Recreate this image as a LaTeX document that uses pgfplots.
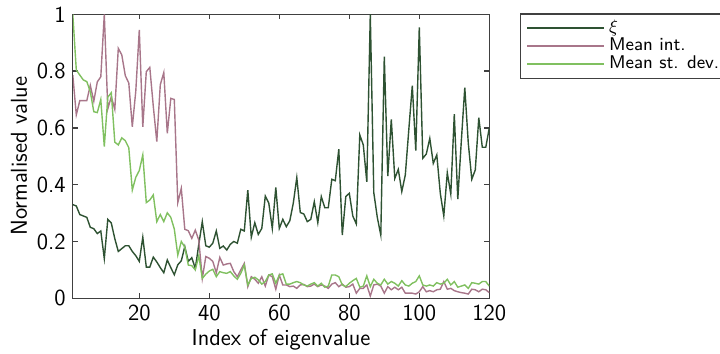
\documentclass[border=0pt]{standalone}
\usepackage{pgfplots}
\pgfplotsset{compat=1.18}
\usepackage{pgfplotstable}

\definecolor{xicol}{RGB}{46,82,50}
\definecolor{intcol}{RGB}{168,118,138}
\definecolor{sdcol}{RGB}{128,192,96}
\definecolor{axcol}{RGB}{64,64,64}

% index, xi, mean intensity, mean standard deviation
\pgfplotstableread{
i xi mint msd
1 0.33 0.786 1.0
2 0.325 0.646 0.804
3 0.295 0.696 0.786
4 0.29 0.696 0.769
5 0.285 0.696 0.763
6 0.25 0.75 0.728
7 0.245 0.694 0.657
8 0.228 0.762 0.654
9 0.237 0.78 0.70
10 0.14 1.0 0.534
11 0.278 0.667 0.708
12 0.265 0.71 0.724
13 0.21 0.665 0.55
14 0.165 0.88 0.54
15 0.175 0.857 0.565
16 0.185 0.784 0.555
17 0.185 0.758 0.53
18 0.165 0.604 0.381
19 0.15 0.73 0.426
20 0.13 0.945 0.45
21 0.215 0.604 0.505
22 0.11 0.798 0.337
23 0.11 0.813 0.346
24 0.145 0.676 0.364
25 0.128 0.552 0.27
26 0.108 0.752 0.295
27 0.09 0.795 0.27
28 0.135 0.581 0.301
29 0.108 0.704 0.285
30 0.083 0.70 0.244
31 0.118 0.337 0.152
32 0.132 0.387 0.2
33 0.182 0.243 0.18
34 0.13 0.238 0.117
35 0.143 0.211 0.115
36 0.105 0.24 0.1
37 0.19 0.205 0.15
38 0.27 0.07 0.07
39 0.185 0.147 0.085
40 0.18 0.141 0.096
41 0.194 0.13 0.102
42 0.237 0.09 0.076
43 0.176 0.144 0.094
44 0.184 0.117 0.09
45 0.17 0.121 0.088
46 0.19 0.123 0.094
47 0.2 0.094 0.079
48 0.194 0.076 0.067
49 0.243 0.1 0.088
50 0.237 0.123 0.117
51 0.381 0.041 0.047
52 0.215 0.076 0.07
53 0.266 0.067 0.074
54 0.225 0.053 0.065
55 0.246 0.076 0.05
56 0.36 0.043 0.059
57 0.335 0.082 0.082
58 0.246 0.076 0.086
59 0.39 0.032 0.053
60 0.246 0.082 0.082
61 0.278 0.047 0.086
62 0.252 0.047 0.05
63 0.273 0.041 0.05
64 0.335 0.043 0.055
65 0.425 0.035 0.059
66 0.302 0.047 0.055
67 0.297 0.049 0.047
68 0.27 0.041 0.043
69 0.278 0.043 0.05
70 0.34 0.05 0.055
71 0.266 0.041 0.043
72 0.358 0.047 0.053
73 0.319 0.043 0.039
74 0.319 0.035 0.043
75 0.419 0.05 0.082
76 0.414 0.055 0.082
77 0.525 0.041 0.076
78 0.223 0.05 0.047
79 0.358 0.039 0.041
80 0.37 0.041 0.053
81 0.29 0.05 0.062
82 0.262 0.018 0.07
83 0.575 0.035 0.039
84 0.54 0.035 0.043
85 0.41 0.047 0.079
86 1.0 0.008 0.041
87 0.372 0.047 0.067
88 0.285 0.05 0.053
89 0.223 0.043 0.047
90 0.851 0.018 0.067
91 0.43 0.041 0.05
92 0.63 0.03 0.059
93 0.422 0.039 0.053
94 0.454 0.03 0.043
95 0.376 0.039 0.062
96 0.434 0.018 0.047
97 0.593 0.018 0.043
98 0.749 0.018 0.053
99 0.52 0.015 0.059
100 0.954 0.023 0.079
101 0.493 0.041 0.047
102 0.508 0.023 0.043
103 0.563 0.027 0.047
104 0.475 0.023 0.043
105 0.505 0.03 0.055
106 0.37 0.032 0.05
107 0.29 0.059 0.053
108 0.442 0.032 0.067
109 0.367 0.035 0.047
110 0.648 0.027 0.059
111 0.349 0.023 0.039
112 0.552 0.02 0.043
113 0.742 0.018 0.047
114 0.546 0.015 0.035
115 0.419 0.032 0.055
116 0.452 0.03 0.053
117 0.636 0.023 0.05
118 0.532 0.032 0.059
119 0.532 0.03 0.059
120 0.6 0.02 0.043
}\eigtable

\begin{document}
\begin{tikzpicture}
\useasboundingbox (0,0) rectangle (360pt,177pt);
\begin{axis}[
  at={(36.4pt,27.85pt)}, anchor=south west,
  scale only axis,
  width=208.25pt, height=142pt,
  xmin=1, xmax=120, ymin=0, ymax=1,
  xtick={20,40,...,120},
  ytick={0,0.2,...,1},
  tick align=inside,
  major tick length=2.5pt,
  axis line style={axcol, line width=0.7pt},
  every tick/.style={axcol, line width=0.7pt},
  font=\fontsize{11.5}{13}\selectfont\sffamily,
  /pgf/number format/assume math mode=true,
  xlabel={Index of eigenvalue},
  ylabel={Normalised value},
  xlabel style={yshift=3pt},
  ylabel style={yshift=-2pt},
  legend style={at={(1,1)}, xshift=15.35pt, yshift=0.5pt, anchor=north west,
    draw=axcol, line width=0.7pt, inner xsep=3pt, inner ysep=1.2pt,
    row sep=-2.9pt, cells={anchor=west},
    font=\fontsize{9.2}{10.5}\selectfont\sffamily},
  legend cell align=left,
  legend image code/.code={\draw[#1, line width=0.75pt] (0pt,0pt) -- (38.5pt,0pt);},
]
\addplot[xicol, line width=0.7pt] table[x=i, y=xi] {\eigtable};
\addlegendentry{$\xi$}
\addplot[intcol, line width=0.7pt] table[x=i, y=mint] {\eigtable};
\addlegendentry{Mean int.}
\addplot[sdcol, line width=0.7pt] table[x=i, y=msd] {\eigtable};
\addlegendentry{Mean st. dev.}
\end{axis}
\end{tikzpicture}
\end{document}
